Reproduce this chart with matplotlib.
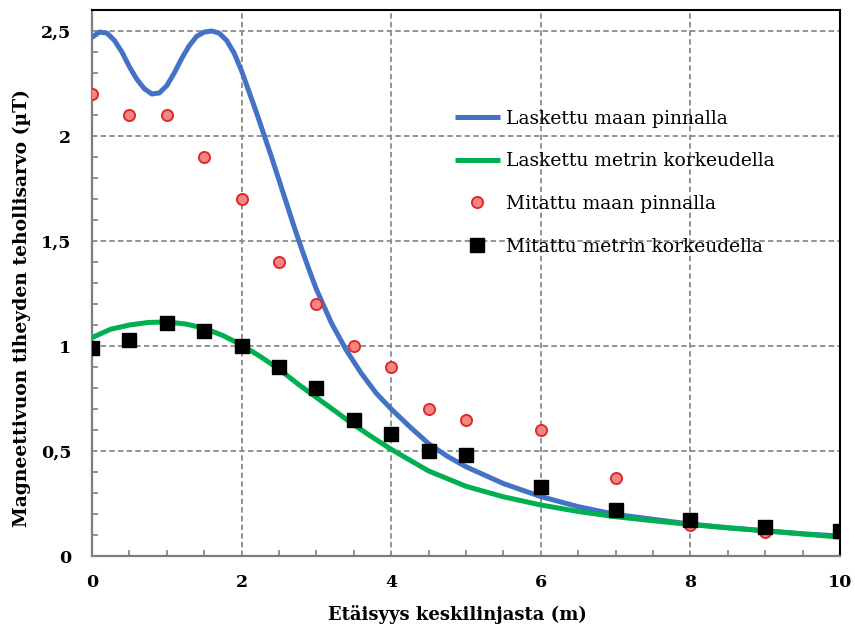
import matplotlib
matplotlib.use("Agg")
import matplotlib.pyplot as plt
from matplotlib.ticker import MultipleLocator, FuncFormatter

# Calculated curves
calc_x_ground = [0.0, 0.1, 0.2, 0.3, 0.4, 0.5, 0.6, 0.7, 0.8, 0.9, 1.0, 1.1, 1.2, 1.3,
                 1.4, 1.5, 1.6, 1.7, 1.8, 1.9, 2.0, 2.1, 2.2, 2.3, 2.4, 2.5, 2.6, 2.7,
                 2.8, 2.9, 3.0, 3.2, 3.4, 3.6, 3.8, 4.0, 4.25, 4.5, 4.75, 5.0, 5.5,
                 6.0, 6.5, 7.0, 7.5, 8.0, 8.5, 9.0, 9.5, 10.0]
calc_y_ground = [2.47, 2.495, 2.49, 2.455, 2.40, 2.33, 2.27, 2.225, 2.20, 2.205, 2.24,
                 2.30, 2.37, 2.43, 2.475, 2.495, 2.50, 2.49, 2.455, 2.395, 2.31, 2.21,
                 2.11, 2.005, 1.90, 1.79, 1.68, 1.57, 1.465, 1.365, 1.27, 1.11, 0.98,
                 0.87, 0.775, 0.70, 0.615, 0.535, 0.475, 0.425, 0.345, 0.283, 0.235,
                 0.198, 0.175, 0.152, 0.135, 0.12, 0.106, 0.095]

calc_x_1m = [0.0, 0.25, 0.5, 0.75, 1.0, 1.25, 1.5, 1.75, 2.0, 2.25, 2.5, 2.75, 3.0,
             3.25, 3.5, 3.75, 4.0, 4.5, 5.0, 5.5, 6.0, 6.5, 7.0, 7.5, 8.0, 8.5, 9.0,
             9.5, 10.0]
calc_y_1m = [1.04, 1.08, 1.10, 1.112, 1.115, 1.105, 1.085, 1.05, 1.005, 0.95, 0.89,
             0.82, 0.755, 0.69, 0.625, 0.565, 0.508, 0.405, 0.332, 0.282, 0.243,
             0.212, 0.187, 0.168, 0.150, 0.134, 0.120, 0.105, 0.09]

# Measured points
meas_x_ground = [0, 0.5, 1, 1.5, 2, 2.5, 3, 3.5, 4, 4.5, 5, 6, 7, 8, 9, 10]
meas_y_ground = [2.2, 2.1, 2.1, 1.9, 1.7, 1.4, 1.2, 1.0, 0.9, 0.7, 0.65, 0.6, 0.37,
                 0.15, 0.115, 0.12]

meas_x_1m = [0, 0.5, 1, 1.5, 2, 2.5, 3, 3.5, 4, 4.5, 5, 6, 7, 8, 9, 10]
meas_y_1m = [0.99, 1.03, 1.11, 1.07, 1.0, 0.9, 0.8, 0.65, 0.58, 0.5, 0.48, 0.33,
             0.22, 0.17, 0.14, 0.12]

labels = ["Laskettu maan pinnalla", "Laskettu metrin korkeudella",
          "Mitattu maan pinnalla", "Mitattu metrin korkeudella"]

plt.rcParams["font.family"] = ["DejaVu Serif"]

fig = plt.figure(figsize=(8.55, 6.26), dpi=100)
ax = fig.add_axes([0.1076, 0.1118, 0.8749, 0.8722])

ax.plot(calc_x_ground, calc_y_ground, color="#4472C4", lw=3.6, label=labels[0],
        solid_capstyle="butt", zorder=3)
ax.plot(calc_x_1m, calc_y_1m, color="#00B050", lw=3.6, label=labels[1],
        solid_capstyle="butt", zorder=3)
ax.plot(meas_x_ground, meas_y_ground, "o", ms=8, mfc="#F28585", mec="#E02A2A",
        mew=1.4, label=labels[2], zorder=4)
ax.plot(meas_x_1m, meas_y_1m, "s", ms=9.5, color="black", label=labels[3], zorder=5)

ax.set_xlim(0, 10)
ax.set_ylim(0, 2.6)

ax.xaxis.set_major_locator(MultipleLocator(2))
ax.xaxis.set_minor_locator(MultipleLocator(0.5))
ax.yaxis.set_major_locator(MultipleLocator(0.5))
ax.yaxis.set_minor_locator(MultipleLocator(0.1))

comma = FuncFormatter(lambda v, p: ("%g" % v).replace(".", ","))
ax.yaxis.set_major_formatter(comma)
ax.xaxis.set_major_formatter(comma)

ax.grid(True, which="major", color="#8a8a8a", linestyle=(0, (3, 1.8)), lw=1.3, zorder=1)
ax.set_axisbelow(True)

ax.tick_params(which="both", direction="in", color="#7f7f7f", width=1.2)
ax.tick_params(which="major", length=0)
ax.tick_params(which="minor", length=4)
ax.tick_params(axis="y", which="major", pad=15, labelsize=12.5)
ax.tick_params(axis="x", which="major", pad=13, labelsize=12.5)
for lab in ax.get_xticklabels() + ax.get_yticklabels():
    lab.set_fontweight("bold")

ax.spines["left"].set_color("#7f7f7f")
ax.spines["bottom"].set_color("#7f7f7f")
ax.spines["left"].set_linewidth(1.6)
ax.spines["bottom"].set_linewidth(1.6)
ax.spines["top"].set_color("black")
ax.spines["right"].set_color("black")
ax.spines["top"].set_linewidth(1.5)
ax.spines["right"].set_linewidth(1.5)

ax.set_xlabel("Etäisyys keskilinjasta (m)", fontsize=13, fontweight="bold")
ax.set_ylabel("Magneettivuon tiheyden tehollisarvo (µT)", fontsize=13.5,
              fontweight="bold")
ax.xaxis.set_label_coords(0.488, -0.09)
ax.yaxis.set_label_coords(-0.082, 0.455)

ax.legend(loc="upper left", bbox_to_anchor=(0.485, 0.817), frameon=False,
          fontsize=13.5, handlelength=2.4, handletextpad=0.35, labelspacing=1.31,
          borderpad=0, borderaxespad=0)

fig.savefig("out.png", dpi=100)
